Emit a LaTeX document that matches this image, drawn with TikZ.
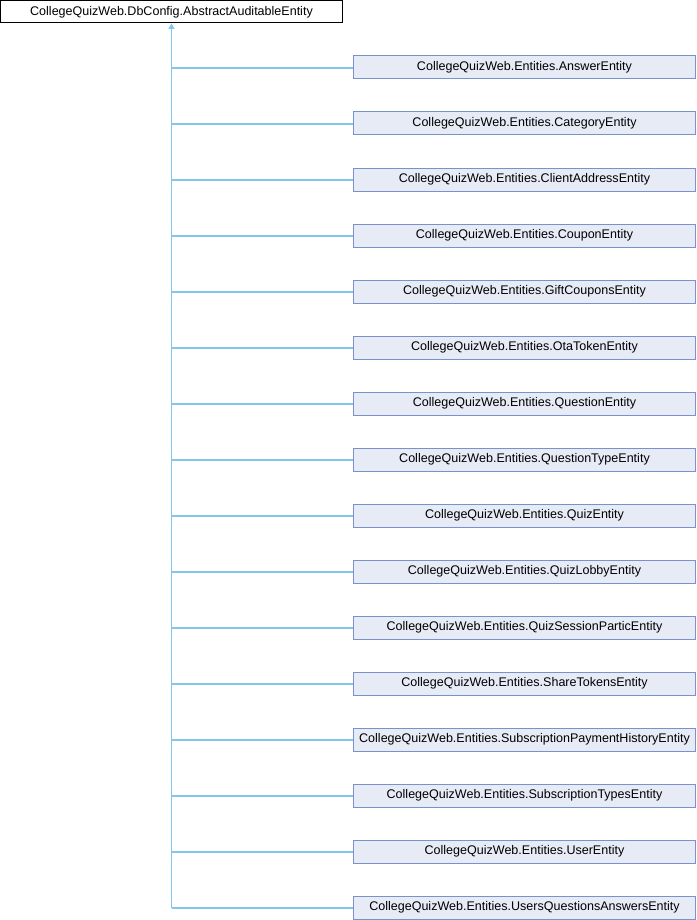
\documentclass[tikz,border=0pt]{standalone}
\usepackage{fontspec}
\setmainfont{Liberation Sans}
\usetikzlibrary{arrows.meta}
\definecolor{boxborder}{RGB}{122,146,202}
\definecolor{boxfill}{RGB}{231,235,245}
\definecolor{edgecol}{RGB}{130,198,240}
\tikzset{
  topbox/.style={draw=black, fill=white, line width=0.75pt, minimum width=256.5pt, minimum height=16.5pt, inner sep=0pt, font=\fontsize{9.4pt}{11pt}\selectfont},
  childbox/.style={draw=boxborder, fill=boxfill, line width=0.75pt, minimum width=256.5pt, minimum height=17.25pt, inner sep=0pt, font=\fontsize{9.4pt}{11pt}\selectfont},
  edge/.style={draw=edgecol, line width=0.8pt},
  inh/.style={edge, {Triangle[open, length=4pt, width=4.5pt, fill=edgecol]}-}
}
\begin{document}
\begin{tikzpicture}[x=0.75pt, y=-0.75pt]
\useasboundingbox (0,0) rectangle (696,920);
\node[topbox] (top) at (171.5,12) {CollegeQuizWeb.DbConfig.AbstractAuditableEntity};
\foreach \i/\name in {0/AnswerEntity,1/CategoryEntity,2/ClientAddressEntity,3/CouponEntity,4/GiftCouponsEntity,5/OtaTokenEntity,6/QuestionEntity,7/QuestionTypeEntity,8/QuizEntity,9/QuizLobbyEntity,10/QuizSessionParticEntity,11/ShareTokensEntity,12/SubscriptionPaymentHistoryEntity,13/SubscriptionTypesEntity,14/UserEntity,15/UsersQuestionsAnswersEntity}{
  \node[childbox] (c\i) at (524.5,67.5+56*\i) {CollegeQuizWeb.Entities.\name};
  \coordinate (j\i) at (171.5,68+56*\i);
  \draw[edge] (j\i) -- (c\i.west |- j\i);
}
\draw[inh] (top.south) -- (j15);
\end{tikzpicture}
\end{document}
